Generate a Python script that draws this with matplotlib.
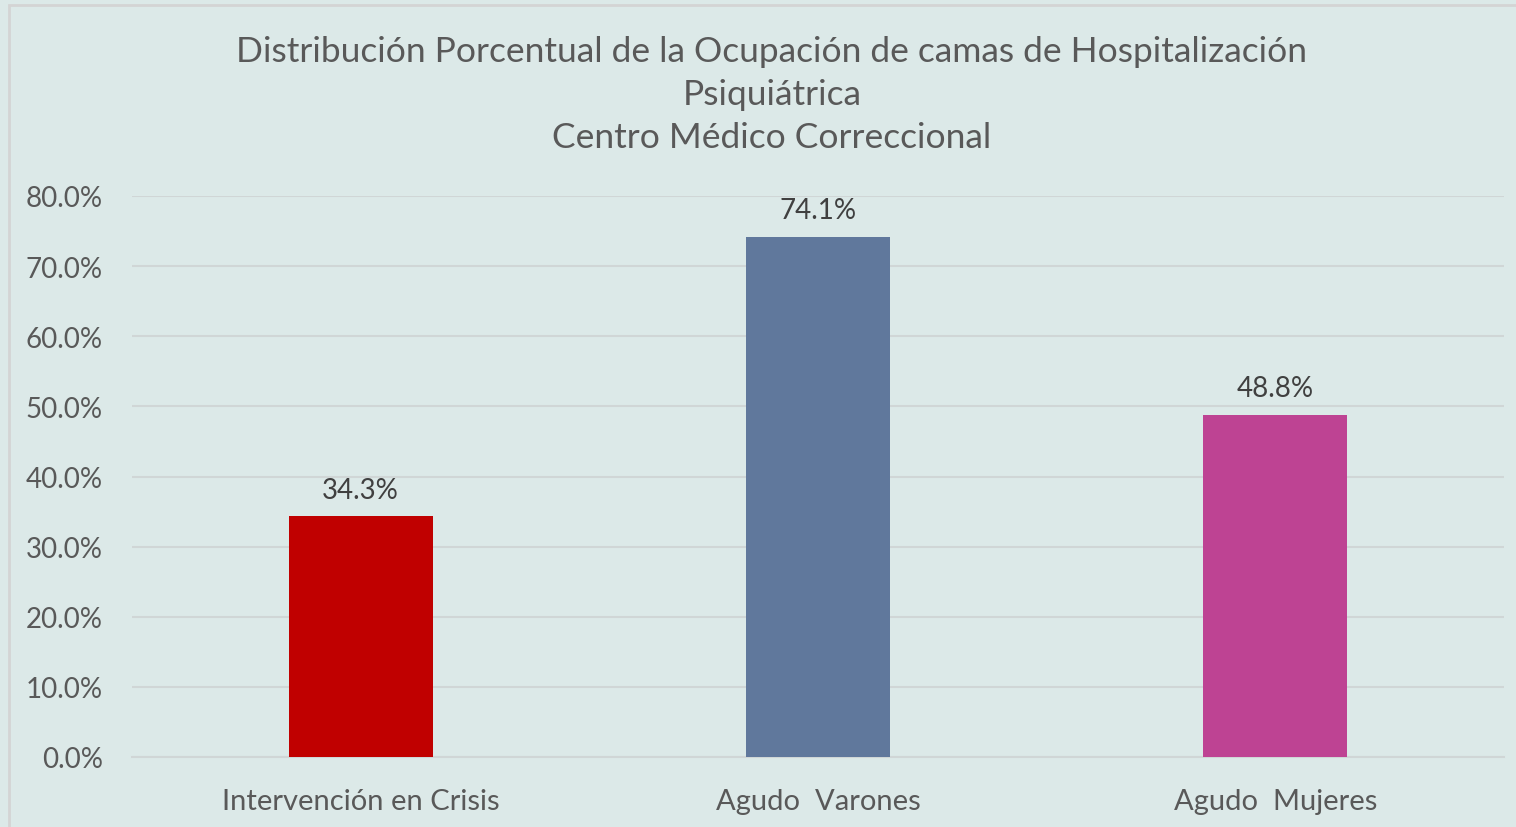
import numpy as np
import matplotlib.pyplot as plt
from matplotlib.patches import Rectangle

# Datos
categorias = ['Intervención en Crisis', 'Agudo  Varones', 'Agudo  Mujeres']
valores = [34.3, 74.1, 48.8]
colores = ['#C00000', '#60789C', '#BE4393']
ticks_y = [0, 10, 20, 30, 40, 50, 60, 70, 80]

fondo = '#DCE9E8'
plt.rcParams['font.family'] = ['Lato', 'DejaVu Sans']

fig = plt.figure(figsize=(15.16, 8.28), dpi=100, facecolor=fondo)
ax = fig.add_axes([132/1516, 1 - 758/828, (1504 - 132)/1516, (758 - 197)/828])
ax.set_facecolor(fondo)

# Marco exterior
fig.patches.append(Rectangle((9/1516, -0.1), 1.2, 1 - 6/828 + 0.1,
                             transform=fig.transFigure, fill=False,
                             edgecolor='#D4D4D4', linewidth=2, zorder=0))

x = np.arange(len(categorias))
ax.bar(x, valores, width=0.315, color=colores, zorder=3)

for xi, v in zip(x, valores):
    ax.annotate(f'{v:.1f}%', (xi, v), xytext=(0, 10), textcoords='offset points',
                ha='center', va='bottom', fontsize=20, color='#404040')

ax.set_xlim(-0.5, len(categorias) - 0.5)
ax.set_ylim(0, 80)
ax.set_yticks(ticks_y)
ax.set_yticklabels([f'{t:.1f}%' for t in ticks_y])
ax.set_xticks(x)
ax.set_xticklabels(categorias)
ax.tick_params(axis='both', length=0, labelcolor='#595959')
ax.tick_params(axis='y', pad=21, labelsize=20)
ax.tick_params(axis='x', pad=22, labelsize=21)
ax.grid(axis='y', color='#D0D6D6', linewidth=1.5, zorder=0)

for s in ['top', 'right', 'left']:
    ax.spines[s].set_visible(False)
ax.spines['bottom'].set_color('#D0D6D6')
ax.spines['bottom'].set_linewidth(1.5)

fig.text(772/1516, 1 - 95/828,
         'Distribución Porcentual de la Ocupación de camas de Hospitalización\nPsiquiátrica\nCentro Médico Correccional',
         ha='center', va='center', fontsize=25.5, color='#595959', linespacing=1.44)

plt.savefig('out.png', dpi=100, facecolor=fondo)
